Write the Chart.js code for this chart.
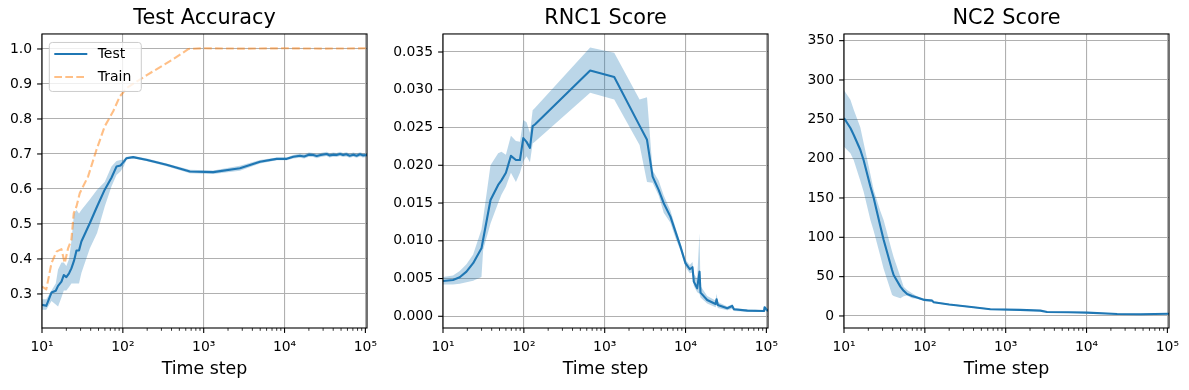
<!DOCTYPE html>
<html><head><meta charset="utf-8">
<script src="https://cdn.jsdelivr.net/npm/chart.js@4.4.1/dist/chart.umd.min.js"></script>
<style>
html,body{margin:0;padding:0;background:#fff;overflow:hidden;width:1189px;height:390px;position:relative;}
canvas{position:absolute;top:0;}
</style></head><body>
<canvas id="c1" width="409" height="390" style="left:0px"></canvas>
<canvas id="c2" width="425" height="390" style="left:393px"></canvas>
<canvas id="c3" width="405" height="390" style="left:804px"></canvas>
<script>
// ---------- data ----------
const accSteps = [10, 11.3, 13.1, 14.8, 15.8, 17.4, 18.6, 20, 21.6, 23.1, 24.9, 26.7, 28.7, 30.7, 39, 48, 59.7, 72.3, 83.4, 93.5, 103, 111, 134, 200, 347, 675, 1312, 2806, 4966, 8000, 10640, 12840, 15500, 17500, 20000, 22700, 25000, 28000, 33200, 36000, 40000, 44000, 48600, 53000, 58000, 64000, 71000, 78000, 86000, 93000, 104700];
const accTest = [0.269, 0.266, 0.304, 0.309, 0.323, 0.335, 0.354, 0.348, 0.359, 0.373, 0.395, 0.424, 0.424, 0.45, 0.502, 0.55, 0.598, 0.632, 0.664, 0.667, 0.678, 0.688, 0.691, 0.683, 0.669, 0.650, 0.648, 0.659, 0.678, 0.686, 0.686, 0.692, 0.695, 0.693, 0.698, 0.697, 0.694, 0.697, 0.700, 0.696, 0.698, 0.697, 0.700, 0.697, 0.699, 0.695, 0.698, 0.695, 0.699, 0.696, 0.697];
const accTestHi = [0.285, 0.285, 0.31, 0.33, 0.37, 0.39, 0.39, 0.38, 0.40, 0.45, 0.53, 0.54, 0.53, 0.54, 0.57, 0.598, 0.62, 0.664, 0.68, 0.683, 0.684, 0.692, 0.694, 0.687, 0.673, 0.655, 0.653, 0.666, 0.683, 0.690, 0.690, 0.697, 0.701, 0.699, 0.704, 0.703, 0.700, 0.703, 0.706, 0.702, 0.704, 0.703, 0.706, 0.703, 0.705, 0.701, 0.704, 0.701, 0.705, 0.702, 0.703];
const accTestLo = [0.255, 0.255, 0.28, 0.27, 0.264, 0.29, 0.31, 0.31, 0.32, 0.33, 0.33, 0.33, 0.33, 0.36, 0.43, 0.474, 0.55, 0.607, 0.64, 0.65, 0.665, 0.684, 0.688, 0.679, 0.665, 0.645, 0.643, 0.652, 0.673, 0.682, 0.682, 0.687, 0.689, 0.687, 0.692, 0.691, 0.688, 0.691, 0.694, 0.690, 0.692, 0.691, 0.694, 0.691, 0.693, 0.689, 0.692, 0.689, 0.693, 0.690, 0.691];

const trainSteps = [10, 11.3, 13.1, 15.1, 17.4, 19.1, 21, 23.1, 24.7, 26.7, 29.3, 37.2, 47.2, 59.7, 76, 91.6, 111, 200, 400, 650, 1000, 3000, 10000, 30000, 104700];
const accTrain = [0.321, 0.313, 0.388, 0.421, 0.428, 0.388, 0.43, 0.455, 0.531, 0.55, 0.588, 0.636, 0.712, 0.779, 0.822, 0.864, 0.888, 0.926, 0.968, 1.0, 1.002, 1.001, 1.002, 1.001, 1.002];

const rnc1Steps = [10, 13.3, 16.1, 19.5, 23.6, 29.9, 31.4, 38.7, 48.1, 52.8, 60, 69.2, 79.8, 89.5, 98.4, 108, 119, 128.5, 137, 661, 1312, 2700, 3337, 3917, 4650, 5370, 6500, 7500, 8650, 9980, 11280, 12180, 12650, 13930, 14880, 15320, 18530, 23500, 24200, 25100, 32800, 37800, 39700, 58200, 93300, 95000, 104700];
const rnc1Mean = [0.00468, 0.00481, 0.00517, 0.00591, 0.00703, 0.0090, 0.0102, 0.0154, 0.0174, 0.0180, 0.0190, 0.02125, 0.0207, 0.0207, 0.0236, 0.0231, 0.0223, 0.0252, 0.0254, 0.03256, 0.03168, 0.02525, 0.02337, 0.0185, 0.01674, 0.01498, 0.0132, 0.01122, 0.00923, 0.00703, 0.00623, 0.0065, 0.00459, 0.00371, 0.00591, 0.00313, 0.00216, 0.00163, 0.00225, 0.0015, 0.00106, 0.00137, 0.00093, 0.00075, 0.0007, 0.0012, 0.0007];
const rnc1Hi = [0.0052, 0.0054, 0.0060, 0.0069, 0.0082, 0.0115, 0.0130, 0.0200, 0.0216, 0.0218, 0.0214, 0.0239, 0.0232, 0.0231, 0.0260, 0.0257, 0.0243, 0.0273, 0.0276, 0.0356, 0.0349, 0.0287, 0.0290, 0.0193, 0.0180, 0.0160, 0.0140, 0.0118, 0.0097, 0.0075, 0.0068, 0.0072, 0.0056, 0.0050, 0.0110, 0.0040, 0.0027, 0.0021, 0.0030, 0.0019, 0.0013, 0.0016, 0.0011, 0.0009, 0.0008, 0.0014, 0.0008];
const rnc1Lo = [0.0042, 0.0042, 0.0043, 0.0045, 0.0047, 0.0052, 0.0088, 0.0123, 0.0150, 0.0161, 0.0172, 0.0190, 0.0178, 0.0190, 0.0205, 0.0212, 0.0204, 0.0229, 0.0231, 0.0296, 0.0287, 0.0227, 0.0178, 0.0177, 0.0160, 0.0137, 0.0124, 0.0104, 0.0087, 0.0065, 0.0057, 0.0058, 0.0040, 0.0032, 0.0030, 0.0025, 0.0017, 0.0012, 0.0015, 0.0011, 0.0008, 0.0010, 0.0007, 0.0006, 0.0006, 0.0007, 0.0006];

const nc2Steps = [10, 12, 13.2, 15.9, 17.5, 21.2, 23.3, 28.2, 30.9, 39.3, 41.1, 49.8, 54.7, 60.3, 69.5, 80, 98.7, 123, 128.6, 200, 400, 646, 1500, 2686, 3250, 6000, 10170, 23900, 46500, 104700];
const nc2Mean = [251.6, 238.9, 230, 211.3, 198, 164.6, 150, 113.7, 97, 58.5, 52, 37.3, 32, 28, 25.5, 23.5, 20.4, 19.5, 17.4, 14.5, 11, 8.5, 7.8, 6.8, 5.1, 4.8, 4.2, 2.5, 2.1, 2.9];
const nc2Hi = [287, 275, 262, 240, 220, 180, 160, 133, 122, 82, 75, 50, 37, 33, 29, 25, 22, 20.8, 18.6, 15.6, 12, 9.4, 8.6, 7.6, 5.9, 5.5, 4.9, 3.2, 2.8, 3.6];
const nc2Lo = [215, 207, 198, 172, 158, 122, 108, 76, 60, 27, 25.5, 22.5, 25, 26, 22.5, 22, 19, 18.5, 16.5, 13.6, 10.2, 7.8, 7.1, 6.1, 4.4, 4.1, 3.5, 1.9, 1.5, 2.2];

const xMajorValues = [10, 100, 1000, 10000, 100000];
const xMajorLabels = ['10\u00B9', '10\u00B2', '10\u00B3', '10\u2074', '10\u2075'];
const accYTicks = [0.3, 0.4, 0.5, 0.6, 0.7, 0.8, 0.9, 1.0];
const rnc1YTicks = [0.000, 0.005, 0.010, 0.015, 0.020, 0.025, 0.030, 0.035];
const nc2YTicks = [0, 50, 100, 150, 200, 250, 300, 350];

// ---------- helpers ----------
const xTickValues = [];
for (let e = 1; e <= 4; e++) for (let m = 1; m <= 9; m++) xTickValues.push(m * Math.pow(10, e));
xTickValues.push(100000);

function isMajor(v) { const l = Math.log10(v); return Math.abs(l - Math.round(l)) < 1e-9; }
function xLabel(v) {
  for (let i = 0; i < xMajorValues.length; i++) if (Math.abs(v - xMajorValues[i]) < 1e-6 * v) return xMajorLabels[i];
  return '';
}
function zip(xs, ys) { return xs.map((x, i) => ({ x: x, y: ys[i] })); }

Chart.defaults.font.family = "'DejaVu Sans', sans-serif";
Chart.defaults.color = '#000';

const BLUE = '#1f77b4';
const BAND = 'rgba(31,119,180,0.3)';

const axesDeco = {
  id: 'axesDeco',
  afterDraw(chart) {
    const ctx = chart.ctx, a = chart.chartArea;
    const xs = chart.scales.x, ys = chart.scales.y;
    ctx.save();
    ctx.strokeStyle = '#000';
    xs.ticks.forEach(t => {
      const major = isMajor(t.value);
      const p = xs.getPixelForValue(t.value);
      if (p < a.left - 0.5 || p > a.right + 0.5) return;
      ctx.lineWidth = major ? 1.1 : 0.8;
      const len = major ? 4.9 : 2.8;
      ctx.beginPath(); ctx.moveTo(p, a.bottom); ctx.lineTo(p, a.bottom + len); ctx.stroke();
    });
    ys.ticks.forEach(t => {
      const p = ys.getPixelForValue(t.value);
      if (p < a.top - 0.5 || p > a.bottom + 0.5) return;
      ctx.lineWidth = 1.1;
      ctx.beginPath(); ctx.moveTo(a.left - 4.9, p); ctx.lineTo(a.left, p); ctx.stroke();
    });
    ctx.lineWidth = 1.1;
    ctx.strokeRect(a.left, a.top, a.right - a.left, a.bottom - a.top);
    ctx.restore();
  }
};

const boxLegend = {
  id: 'boxLegend',
  afterDraw(chart, args, opts) {
    if (!opts || !opts.items || !opts.items.length) return;
    const ctx = chart.ctx, a = chart.chartArea;
    const x0 = a.left + 7.3, y0 = a.top + 8.5, w = 92, h = 49, r = 3;
    ctx.save();
    ctx.beginPath();
    ctx.moveTo(x0 + r, y0);
    ctx.lineTo(x0 + w - r, y0); ctx.quadraticCurveTo(x0 + w, y0, x0 + w, y0 + r);
    ctx.lineTo(x0 + w, y0 + h - r); ctx.quadraticCurveTo(x0 + w, y0 + h, x0 + w - r, y0 + h);
    ctx.lineTo(x0 + r, y0 + h); ctx.quadraticCurveTo(x0, y0 + h, x0, y0 + h - r);
    ctx.lineTo(x0, y0 + r); ctx.quadraticCurveTo(x0, y0, x0 + r, y0);
    ctx.closePath();
    ctx.fillStyle = 'rgba(255,255,255,0.8)';
    ctx.fill();
    ctx.strokeStyle = '#cccccc'; ctx.lineWidth = 1;
    ctx.stroke();
    opts.items.forEach((idx, i) => {
      const ds = chart.data.datasets[idx];
      const y = y0 + 11.6 + i * 23;
      ctx.strokeStyle = ds.borderColor; ctx.lineWidth = ds.borderWidth;
      ctx.setLineDash(ds.borderDash || []);
      ctx.beginPath(); ctx.moveTo(x0 + 5, y); ctx.lineTo(x0 + 38, y); ctx.stroke();
      ctx.setLineDash([]);
      ctx.fillStyle = '#000';
      ctx.font = "14px 'DejaVu Sans', sans-serif";
      ctx.textBaseline = 'middle'; ctx.textAlign = 'left';
      ctx.fillText(ds.label, x0 + 48.4, y);
    });
    ctx.restore();
  }
};

function bandSets(steps, lo, hi) {
  return [
    { label: 'lower', data: zip(steps, lo), borderColor: 'rgba(0,0,0,0)', borderWidth: 1, pointRadius: 0, fill: false },
    { label: 'upper', data: zip(steps, hi), borderColor: 'rgba(0,0,0,0)', borderWidth: 1, pointRadius: 0, fill: '-1', backgroundColor: BAND }
  ];
}

function makeChart(id, o) {
  return new Chart(document.getElementById(id), {
    type: 'line',
    data: { datasets: o.datasets },
    options: {
      responsive: false, animation: false, devicePixelRatio: 1,
      layout: { padding: 0 },
      elements: { line: { tension: 0, borderJoinStyle: 'round' }, point: { radius: 0 } },
      plugins: {
        legend: { display: false },
        tooltip: { enabled: false },
        title: { display: true, text: o.title, color: '#000', font: { size: 20.8, weight: 'normal' }, padding: { top: 6.5, bottom: 2.5 } },
        boxLegend: { items: o.legendItems || [] }
      },
      scales: {
        x: {
          type: 'logarithmic', min: 10, max: 104700,
          afterBuildTicks: s => { s.ticks = xTickValues.map(v => ({ value: v })); },
          afterFit: s => { s.height = 62; s.paddingLeft = 0; s.paddingRight = 0; },
          grid: { color: c => (c.tick && isMajor(c.tick.value)) ? '#b0b0b0' : 'rgba(0,0,0,0)', lineWidth: 1.1, drawTicks: false },
          border: { display: false },
          ticks: { autoSkip: false, maxRotation: 0, minRotation: 0, padding: 11, color: '#000', font: { size: 13.9 }, callback: v => xLabel(v) },
          title: { display: true, text: 'Time step', color: '#000', font: { size: 17.4 }, padding: { top: 0, bottom: 10 } }
        },
        y: {
          min: o.yMin, max: o.yMax,
          afterBuildTicks: s => { s.ticks = o.yTicks.map(v => ({ value: v })); },
          afterFit: s => { s.width = o.yW; s.paddingTop = 0; s.paddingBottom = 0; },
          grid: { color: '#b0b0b0', lineWidth: 1.1, drawTicks: false },
          border: { display: false },
          ticks: { padding: 10, color: '#000', font: { size: 13.9 }, callback: v => Number(v).toFixed(o.dec) }
        },
        ySpacer: {
          position: 'right', min: 0, max: 1,
          afterFit: s => { s.width = o.yW; s.paddingTop = 0; s.paddingBottom = 0; },
          grid: { display: false, drawTicks: false },
          border: { display: false },
          ticks: { display: false }
        }
      }
    },
    plugins: [axesDeco, boxLegend]
  });
}

makeChart('c1', {
  title: 'Test Accuracy', yW: 42, yMin: 0.2027, yMax: 1.0429, yTicks: accYTicks, dec: 1,
  legendItems: [1, 0],
  datasets: [
    { label: 'Train', data: zip(trainSteps, accTrain), borderColor: 'rgba(255,127,14,0.5)', borderWidth: 2.1, borderDash: [7.7, 3.3], pointRadius: 0, fill: false },
    { label: 'Test', data: zip(accSteps, accTest), borderColor: BLUE, borderWidth: 2.1, pointRadius: 0, fill: false }
  ].concat(bandSets(accSteps, accTestLo, accTestHi))
});

makeChart('c2', {
  title: 'RNC1 Score', yW: 50, yMin: -0.00155, yMax: 0.03739, yTicks: rnc1YTicks, dec: 3,
  datasets: [
    { label: 'RNC1', data: zip(rnc1Steps, rnc1Mean), borderColor: BLUE, borderWidth: 2.1, pointRadius: 0, fill: false }
  ].concat(bandSets(rnc1Steps, rnc1Lo, rnc1Hi))
});

makeChart('c3', {
  title: 'NC2 Score', yW: 40, yMin: -15.3, yMax: 358.5, yTicks: nc2YTicks, dec: 0,
  datasets: [
    { label: 'NC2', data: zip(nc2Steps, nc2Mean), borderColor: BLUE, borderWidth: 2.1, pointRadius: 0, fill: false }
  ].concat(bandSets(nc2Steps, nc2Lo, nc2Hi))
});
</script>
</body></html>
